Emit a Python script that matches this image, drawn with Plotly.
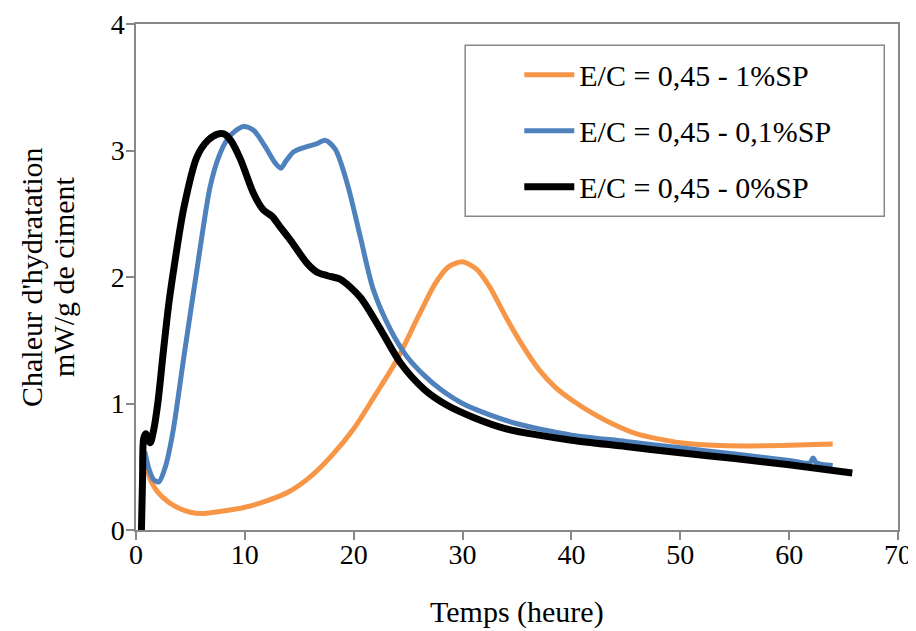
import plotly.graph_objects as go

# Orange: E/C = 0,45 - 1%SP
t_1sp = [0.9, 1.3, 2, 3, 4, 5, 6, 8, 10, 12, 14, 16, 18, 20, 22, 24, 26,
         27.5, 28.7, 30, 31.3, 32.5, 34, 35.5, 37, 38.5, 40, 42, 44, 46, 48, 50,
         53, 56, 60, 64]
q_1sp = [0.55, 0.40, 0.30, 0.22, 0.17, 0.14, 0.13, 0.15, 0.18, 0.23, 0.30, 0.42, 0.59,
         0.80, 1.07, 1.35, 1.70, 1.95, 2.08, 2.12, 2.06, 1.92, 1.68, 1.46, 1.27, 1.13,
         1.03, 0.92, 0.83, 0.76, 0.72, 0.69, 0.67, 0.665, 0.67, 0.68]

# Blue: E/C = 0,45 - 0,1%SP
t_01sp = [0.8, 1.2, 1.6, 2.1, 2.7, 3.4, 4.4, 5.6, 6.8, 7.6, 8.4, 9.2, 9.9, 10.8, 11.8, 12.8,
          13.3, 13.8, 14.5, 15.7, 16.5, 17.4, 18.3, 19.4, 20.6, 21.8, 23.4, 24.9, 26.5, 28,
          30, 32.5, 35, 37.5, 40, 45, 50, 55, 60, 61.9, 62.2, 62.5, 64]
q_01sp = [0.62, 0.48, 0.40, 0.38, 0.50, 0.78, 1.37, 2.06, 2.71, 2.95, 3.09, 3.16, 3.19, 3.16,
          3.04, 2.90, 2.86, 2.92, 2.99, 3.03, 3.05, 3.08, 3.01, 2.74, 2.32, 1.90, 1.58, 1.37,
          1.22, 1.11, 1.00, 0.91, 0.84, 0.79, 0.75, 0.70, 0.65, 0.60, 0.55, 0.53, 0.57, 0.53, 0.51]

# Black: E/C = 0,45 - 0%SP
t_0sp = [0.5, 0.6, 0.7, 0.9, 1.3, 1.6, 2.0, 2.5, 3.0, 3.5, 4.4, 5.6, 6.6, 7.5, 8.1, 8.7, 9.6,
         10.8, 11.7, 12.5, 13.2, 14.2, 15.7, 16.6, 17.6, 18.8, 20.6, 22.5, 24.3, 26.5, 28.5,
         31, 34, 37, 40, 45, 50, 55, 60, 65.8]
q_0sp = [0.0, 0.40, 0.72, 0.76, 0.69, 0.78, 1.00, 1.40, 1.78, 2.08, 2.55, 2.95, 3.08, 3.13,
         3.13, 3.08, 2.93, 2.66, 2.53, 2.48, 2.40, 2.29, 2.11, 2.04, 2.01, 1.98, 1.84, 1.58,
         1.32, 1.11, 0.99, 0.89, 0.80, 0.75, 0.71, 0.66, 0.61, 0.565, 0.515, 0.45]

names = ["E/C = 0,45 - 1%SP", "E/C = 0,45 - 0,1%SP", "E/C = 0,45 - 0%SP"]
colors = ["#F79646", "#4F81BD", "#000000"]
widths = [5, 5, 7]

FONT = "Liberation Serif"
FS_TICK = 28
FS_TEXT = 30

fig = go.Figure()
series = [(t_1sp, q_1sp), (t_01sp, q_01sp), (t_0sp, q_0sp)]
for i, ((t, q), nm, c, w) in enumerate(zip(series, names, colors, widths)):
    fig.add_trace(go.Scatter(
        x=t, y=q, mode="lines", name=nm, legendgroup=f"g{i}",
        line=dict(color=c, width=w, shape="spline", smoothing=0.8),
    ))

# legend frame
fig.add_shape(type="rect", xref="paper", yref="paper",
              x0=0.432, x1=0.982, y0=0.620, y1=0.958,
              line=dict(color="#888888", width=1.5), fillcolor="white", layer="below")

# y axis title (two lines)
fig.add_annotation(text="Chaleur d'hydratation", xref="paper", yref="paper",
                   x=0, y=0.5, xanchor="center", yanchor="middle", xshift=-105,
                   textangle=-90, showarrow=False,
                   font=dict(family=FONT, size=FS_TEXT, color="black"))
fig.add_annotation(text="mW/g de ciment", xref="paper", yref="paper",
                   x=0, y=0.5, xanchor="center", yanchor="middle", xshift=-73,
                   textangle=-90, showarrow=False,
                   font=dict(family=FONT, size=FS_TEXT, color="black"))
# x axis title
fig.add_annotation(text="Temps (heure)", xref="paper", yref="paper",
                   x=0.5, y=0, xanchor="center", yanchor="middle", yshift=-82,
                   showarrow=False, font=dict(family=FONT, size=FS_TEXT, color="black"))

fig.update_layout(
    width=916, height=631,
    margin=dict(l=127.5, r=26, t=16, b=109),
    paper_bgcolor="white", plot_bgcolor="white",
    font=dict(family=FONT, size=FS_TICK, color="black"),
    showlegend=True,
    legend=dict(x=0.503, y=0.951, xanchor="left", yanchor="top",
                bgcolor="rgba(0,0,0,0)", borderwidth=0,
                font=dict(family=FONT, size=FS_TEXT, color="black"),
                tracegroupgap=14, itemwidth=50),
    xaxis=dict(range=[0, 70], dtick=10, showgrid=False, zeroline=False, automargin=False,
               showline=True, linecolor="#888888", linewidth=1.5, mirror=True,
               ticks="outside", ticklen=8, tickcolor="#888888", tickwidth=1.5,
               ticklabelstandoff=-9,
               tickfont=dict(family=FONT, size=FS_TICK)),
    yaxis=dict(range=[0, 4], dtick=1, showgrid=False, zeroline=False, automargin=False,
               showline=True, linecolor="#888888", linewidth=1.5, mirror=True,
               ticks="outside", ticklen=8, tickcolor="#888888", tickwidth=1.5,
               ticklabelstandoff=-4,
               tickfont=dict(family=FONT, size=FS_TICK)),
)

fig.write_html("out.html")
